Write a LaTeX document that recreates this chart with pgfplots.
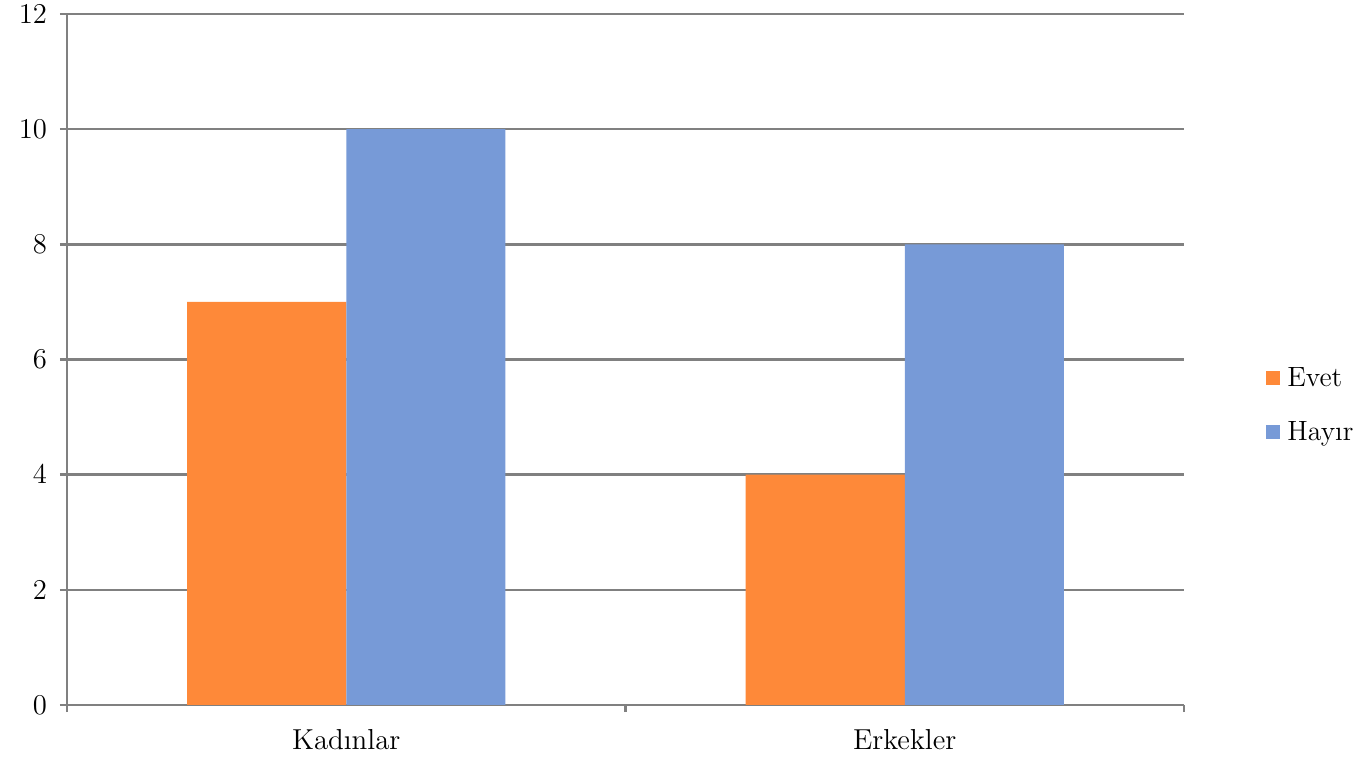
\documentclass[border=0pt]{standalone}
\usepackage{pgfplots}
\pgfplotsset{compat=1.18}
\definecolor{evet}{RGB}{254,137,57}
\definecolor{hayir}{RGB}{119,154,215}
\definecolor{gridgray}{RGB}{128,128,128}
\begin{document}
\begin{tikzpicture}
\begin{axis}[
  scale only axis,
  width=558.5bp, height=345.5bp,
  ybar=0pt, bar width=0.285,
  xmin=-0.5, xmax=1.5,
  ymin=0, ymax=12,
  ytick={0,2,...,12},
  xtick={0,1},
  xticklabels={Kadınlar,Erkekler},
  minor xtick={-0.5,0.5,1.5},
  axis x line*=bottom, axis y line*=left,
  axis line style={draw=gridgray, line width=1.2bp, -},
  ymajorgrids, grid style={draw=gridgray, line width=1.2bp},
  major tick length=3.5bp,
  minor tick length=3.5bp,
  xtick style={draw=none},
  minor x tick style={draw=gridgray, line width=1.2bp},
  ytick style={draw=gridgray, line width=1.2bp},
  tick align=outside,
  yticklabel style={font=\fontsize{14}{16}\selectfont, xshift=-3bp},
  xticklabel style={font=\fontsize{14.5}{17}\selectfont, yshift=-5bp},
  legend style={at={(1.068,0.434)}, anchor=west, draw=none, fill=none,
    font=\fontsize{14}{16}\selectfont, row sep=9bp,
    nodes={inner sep=3.5bp}},
  legend image code/.code={\fill[#1] (0bp,-3.5bp) rectangle (7bp,3.5bp);},
  legend cell align=left,
]
\addplot[fill=evet, draw=none] coordinates {(0,7) (1,4)};
\addplot[fill=hayir, draw=none] coordinates {(0,10) (1,8)};
\legend{Evet,Hayır}
\end{axis}
\pgfresetboundingbox
\path (-33.5bp,-27.5bp) rectangle (652bp,352.5bp);
\end{tikzpicture}
\end{document}
